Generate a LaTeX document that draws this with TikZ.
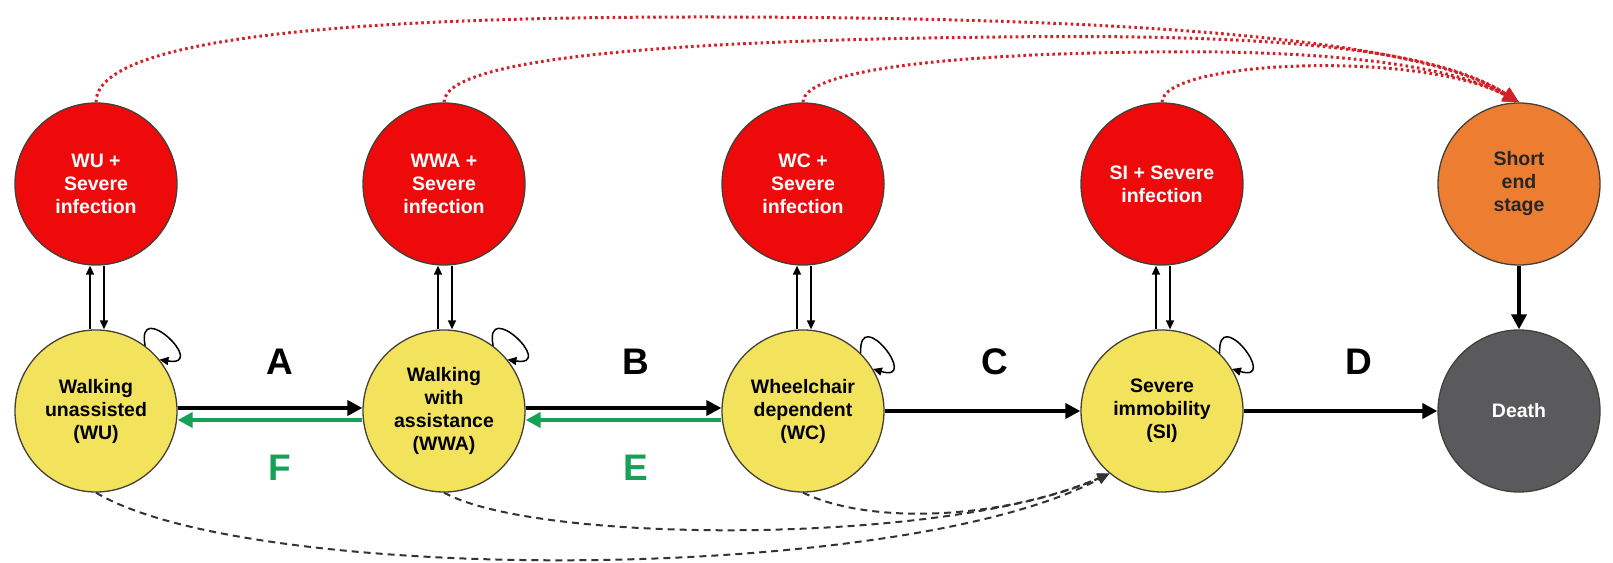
\documentclass[tikz,border=0pt]{standalone}
\usepackage{fontspec}
\setmainfont{Liberation Sans}
\usepackage{tikz}
\usetikzlibrary{arrows.meta,positioning,calc}
\definecolor{walkyellow}{HTML}{F2E25C}
\definecolor{infred}{HTML}{EE0A0A}
\definecolor{endorange}{HTML}{ED7D31}
\definecolor{deadgray}{HTML}{5A5A5C}
\definecolor{backgreen}{HTML}{17A058}
\definecolor{dotred}{HTML}{D42027}
\tikzset{
  stage/.style={circle,draw=black!85!yellow,line width=1.3pt,minimum size=162pt,
    inner sep=0pt,align=center,font=\fontsize{19.5pt}{23pt}\selectfont\bfseries},
  walk/.style={stage,fill=walkyellow,text=black},
  infect/.style={stage,fill=infred,text=white},
  endst/.style={stage,fill=endorange,text=black!85},
  dead/.style={stage,fill=deadgray,text=white},
  move/.style={-{Triangle[length=15pt,width=15pt]},line width=4.3pt},
  recover/.style={move,draw=backgreen},
  link/.style={-{Triangle[length=9pt,width=8pt]},line width=1.5pt},
  selfloop/.style={-{Triangle[length=9pt,width=8pt]},line width=1.5pt},
  jump/.style={-{Triangle[length=12pt,width=10pt]},line width=2pt,
    draw=black!80,dash pattern=on 7pt off 5pt},
  toend/.style={-{Triangle[length=16pt,width=14pt]},line width=3pt,
    draw=dotred,dash pattern=on 2.6pt off 3.2pt},
  lbl/.style={font=\fontsize{37pt}{40pt}\selectfont\bfseries}
}
\begin{document}
\begin{tikzpicture}[x=1pt,y=1pt]
  \useasboundingbox (0,0) rectangle (1613,562);
  % Mobility states
  \node[walk] (WU)  at (96,151)   {Walking\\unassisted\\(WU)};
  \node[walk] (WWA) at (444,151)  {Walking\\with\\assistance\\(WWA)};
  \node[walk] (WC)  at (803,151)  {Wheelchair\\dependent\\(WC)};
  \node[walk] (SI)  at (1162,151) {Severe\\immobility\\(SI)};
  \node[dead] (Death) at (1519,151) {Death};
  % Infection states
  \node[infect] (WUsev)  at (96,378)   {WU +\\Severe\\infection};
  \node[infect] (WWAsev) at (444,378)  {WWA +\\Severe\\infection};
  \node[infect] (WCsev)  at (803,378)  {WC +\\Severe\\infection};
  \node[infect] (SIsev)  at (1162,378) {SI + Severe\\infection};
  \node[endst] (SES) at (1519,378) {Short\\end\\stage};
  % Progression and recovery
  \draw[move] ([yshift=3pt]WU.east) -- ([yshift=3pt]WWA.west);
  \draw[recover] ([yshift=-9pt]WWA.west) -- ([yshift=-9pt]WU.east);
  \draw[move] ([yshift=3pt]WWA.east) -- ([yshift=3pt]WC.west);
  \draw[recover] ([yshift=-9pt]WC.west) -- ([yshift=-9pt]WWA.east);
  \draw[move] (WC.east) -- (SI.west);
  \draw[move] (SI.east) -- (Death.west);
  \draw[move] (SES.south) -- (Death.north);
  \node[lbl] (lA) at (280,200) {A};
  \node[lbl] (lB) at (636,200) {B};
  \node[lbl] (lC) at (995,200) {C};
  \node[lbl] (lD) at (1359,200) {D};
  \node[lbl,text=backgreen] (lF) at (280,94) {F};
  \node[lbl,text=backgreen] (lE) at (636,94) {E};
  % Infection in and out
  \foreach \s/\i in {WU/WUsev,WWA/WWAsev,WC/WCsev,SI/SIsev} {
    \draw[link] ([xshift=-6pt]\s.north) -- ([xshift=-6pt]\i.south);
    \draw[link] ([xshift=8pt]\i.south) -- ([xshift=8pt]\s.north);
  }
  % Staying in state
  \foreach \s/\a/\b in {WU/53/39,WWA/53/39,WC/45/31,SI/45/31}
    \draw[selfloop] (\s.\a) to[out=\a+48,in=\b-48,distance=50pt] (\s.\b);
  % Jumps to severe immobility
  \draw[jump] (WU.south) .. controls (250,-23) and (900,-23) .. (SI.230);
  \draw[jump] (WWA.south) .. controls (540,17) and (950,17) .. (SI.230);
  \draw[jump] (WC.south) .. controls (870,37) and (1000,42) .. (SI.230);
  % Infection to short end stage
  \draw[toend] (WUsev.north) .. controls (96,522) and (330,545) .. (700,545)
    .. controls (1150,545) and (1420,522) .. (SES.north);
  \draw[toend] (WWAsev.north) .. controls (444,507) and (700,522) .. (1000,525)
    .. controls (1250,528) and (1430,517) .. (SES.north);
  \draw[toend] (WCsev.north) .. controls (803,492) and (950,508) .. (1150,510)
    .. controls (1300,512) and (1440,502) .. (SES.north);
  \draw[toend] (SIsev.north) .. controls (1162,502) and (1420,512) .. (SES.north);
\end{tikzpicture}
\end{document}
